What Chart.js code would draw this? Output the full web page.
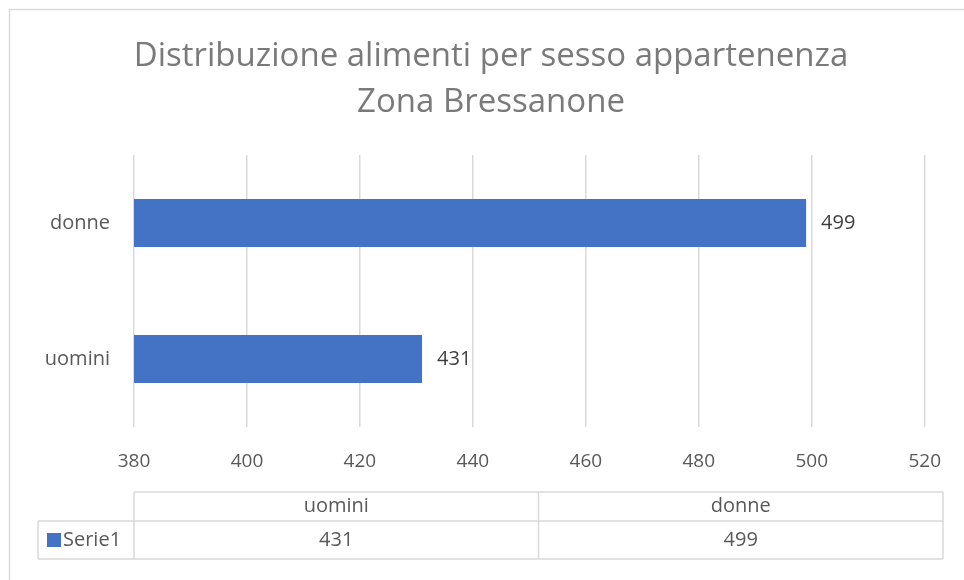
<!DOCTYPE html>
<html>
<head>
<meta charset="utf-8">
<title>Distribuzione alimenti per sesso appartenenza</title>
<script src="https://cdn.jsdelivr.net/npm/chart.js@4.4.1/dist/chart.umd.min.js"></script>
<style>
  html, body { margin: 0; padding: 0; background: #fff; }
  #wrap { width: 964px; height: 580px; }
</style>
</head>
<body>
<div id="wrap"><canvas id="mycanvas" width="964" height="580"></canvas></div>
<script>
// data
var titleLines = ['Distribuzione alimenti per sesso appartenenza', 'Zona Bressanone'];
var categories = ['uomini', 'donne'];
var seriesName = 'Serie1';
var values = [431, 499];
var xTicks = [380, 400, 420, 440, 460, 480, 500, 520];

var FONT = "'Open Sans', 'Noto Sans', sans-serif";
var barColor = '#4472C4';
var lineColor = '#d9d9d9';

// frame + title
var framePlugin = {
  id: 'frame',
  beforeDraw: function(chart) {
    var ctx = chart.ctx;
    ctx.save();
    ctx.fillStyle = '#fff';
    ctx.fillRect(0, 0, chart.width, chart.height);
    ctx.strokeStyle = lineColor;
    ctx.lineWidth = 1.5;
    ctx.beginPath();
    ctx.moveTo(9.5, chart.height);
    ctx.lineTo(9.5, 9.5);
    ctx.lineTo(chart.width, 9.5);
    ctx.stroke();
    ctx.restore();
  },
  afterDraw: function(chart) {
    var ctx = chart.ctx;
    ctx.save();
    ctx.fillStyle = '#7a7a7a';
    ctx.font = '33px ' + FONT;
    ctx.textAlign = 'center';
    ctx.textBaseline = 'alphabetic';
    ctx.fillText(titleLines[0], 491, 66);
    ctx.fillText(titleLines[1], 491, 112);
    ctx.restore();
  }
};

// value labels next to the bars
var labelPlugin = {
  id: 'valueLabels',
  afterDatasetsDraw: function(chart) {
    var ctx = chart.ctx;
    var meta = chart.getDatasetMeta(0);
    ctx.save();
    ctx.fillStyle = '#404040';
    ctx.font = '20px ' + FONT;
    ctx.textAlign = 'left';
    ctx.textBaseline = 'middle';
    meta.data.forEach(function(bar, i) {
      ctx.fillText(String(values[i]), bar.x + 15, bar.y);
    });
    ctx.restore();
  }
};

// data table under the axis
var tablePlugin = {
  id: 'dataTable',
  afterDraw: function(chart) {
    var ctx = chart.ctx;
    var left = chart.chartArea.left;
    var right = 943;
    var keyLeft = 38;
    var top = 492, mid = 521, bottom = 559;
    var colW = (right - left) / categories.length;

    ctx.save();
    ctx.strokeStyle = lineColor;
    ctx.lineWidth = 1.5;
    ctx.beginPath();
    ctx.moveTo(left, top); ctx.lineTo(right, top);
    ctx.moveTo(keyLeft, mid); ctx.lineTo(right, mid);
    ctx.moveTo(keyLeft, bottom); ctx.lineTo(right, bottom);
    ctx.moveTo(keyLeft, mid); ctx.lineTo(keyLeft, bottom);
    for (var i = 0; i <= categories.length; i++) {
      var x = left + colW * i;
      ctx.moveTo(x, top); ctx.lineTo(x, bottom);
    }
    ctx.stroke();

    ctx.font = '20px ' + FONT;
    ctx.fillStyle = '#595959';
    ctx.textAlign = 'center';
    ctx.textBaseline = 'middle';
    for (var j = 0; j < categories.length; j++) {
      var cx = left + colW * (j + 0.5);
      ctx.fillText(categories[j], cx, (top + mid) / 2);
      ctx.fillText(String(values[j]), cx, (mid + bottom) / 2);
    }

    ctx.fillStyle = barColor;
    ctx.fillRect(47, 533, 14, 14);
    ctx.fillStyle = '#595959';
    ctx.textAlign = 'left';
    ctx.fillText(seriesName, 63, (mid + bottom) / 2);
    ctx.restore();
  }
};

var chardata = {
  labels: categories,
  datasets: [{
    label: seriesName,
    data: values,
    backgroundColor: barColor,
    borderWidth: 0,
    barPercentage: 0.353,
    categoryPercentage: 1
  }]
};

var ctx = document.getElementById('mycanvas');
var BarGraph = new Chart(ctx, {
  type: 'bar',
  data: chardata,
  options: {
    indexAxis: 'y',
    responsive: false,
    animation: false,
    layout: { padding: { left: 10, right: 39, top: 155, bottom: 93 } },
    plugins: {
      legend: { display: false },
      title: { display: false },
      tooltip: { enabled: false }
    },
    scales: {
      x: {
        min: xTicks[0],
        max: xTicks[xTicks.length - 1],
        afterBuildTicks: function(scale) {
          scale.ticks = xTicks.map(function(v) { return { value: v }; });
        },
        afterFit: function(scale) { scale.height = 60; },
        border: { display: false },
        grid: { color: lineColor, lineWidth: 1.5, drawTicks: false },
        ticks: { color: '#595959', font: { family: FONT, size: 19 }, padding: 23, maxRotation: 0 }
      },
      y: {
        reverse: true,
        afterFit: function(scale) { scale.width = 124; },
        border: { display: false },
        grid: { display: false, drawTicks: false },
        ticks: { color: '#595959', font: { family: FONT, size: 20 }, padding: 24 }
      }
    }
  },
  plugins: [framePlugin, labelPlugin, tablePlugin]
});
</script>
</body>
</html>
